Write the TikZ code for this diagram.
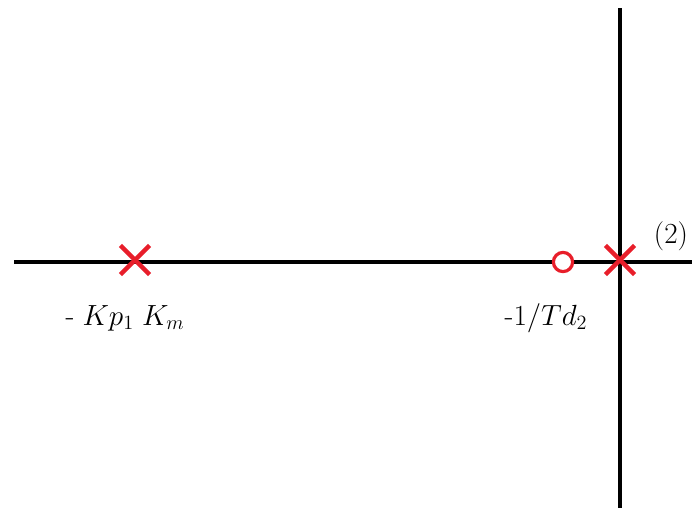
\documentclass[tikz,border=0pt]{standalone}
\usepackage{amsmath}
\usepackage{xcolor}
\usepackage{tikz}
\usetikzlibrary{shapes.misc}

\definecolor{pzred}{RGB}{232,30,42}

\begin{document}
\begin{tikzpicture}[
    x=0.025cm, y=-0.025cm,
    axis/.style={line width=1.1mm, black},
    pole/.style={cross out, draw=pzred, line width=1.1mm, minimum size=0.62cm, inner sep=0pt},
    zero/.style={circle, draw=pzred, line width=0.8mm, minimum size=0.48cm, inner sep=0pt, fill=white},
    lbl/.style={font=\huge, inner sep=0pt}
]
    \useasboundingbox (0,0) rectangle (692,508);

    % Ejes
    \coordinate (re_left) at (14,262);
    \coordinate (re_right) at (692,262);
    \coordinate (im_top) at (620,8);
    \coordinate (im_bottom) at (620,508);
    \draw [axis] (re_left) -- (re_right);
    \draw [axis] (im_top) -- (im_bottom);

    % Polos y cero
    \node (p_motor) [pole] at (135,260) {};
    \node (p_origin) [pole] at (620,260) {};
    \node (z_td) [zero] at (563,262) {};

    % Etiquetas
    \node (l_motor) [lbl] at (125,318) {$\text{-}\;Kp_{1}\;K_{m}$};
    \node (l_td) [lbl] at (546,318) {$\text{-}1/Td_{2}$};
    \node (l_origin) [lbl] at (671,236) {(2)};
\end{tikzpicture}
\end{document}
